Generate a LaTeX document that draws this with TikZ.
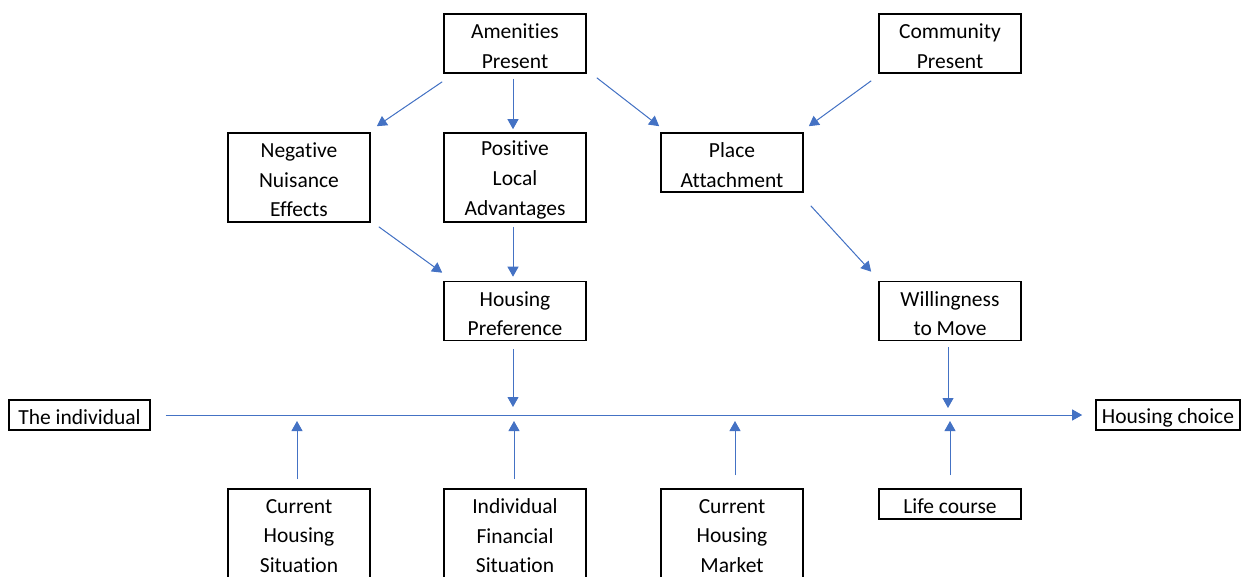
\documentclass[tikz,border=0pt]{standalone}
\usepackage{fontspec}
\setmainfont{Carlito}[Ligatures={NoCommon}]
\usetikzlibrary{arrows.meta}
\definecolor{arrblue}{HTML}{4472C4}
\newcommand\bx[4]{\node[box,#3] (#1) at (#2) {};
  \node[txt] (#1t) at ([yshift=-2.5pt]#1.center) {#4};}
\begin{document}
\begin{tikzpicture}[x=1pt,y=-1pt,
  box/.style={draw=black,line width=1.6pt,minimum width=142pt,inner sep=0pt},
  txt/.style={inner sep=0pt,align=center,font=\fontsize{21.5}{29.6}\selectfont},
  h1/.style={minimum height=30pt},
  h2/.style={minimum height=59pt},
  h3/.style={minimum height=89pt},
  arr/.style={draw=arrblue,line width=1pt,-{Triangle[length=10pt,width=11pt]},fill=arrblue}
]
\useasboundingbox (0,0) rectangle (1245,576);
\clip (0,0) rectangle (1245,576);
\bx{am}{515,43.5}{h2}{Amenities\\Present}
\bx{com}{950,43.5}{h2}{Community\\Present}
\bx{neg}{299,177.5}{h3}{Negative\\Nuisance\\Effects}
\bx{pos}{515,177.5}{h3}{Positive\\Local\\Advantages}
\bx{place}{732,162.5}{h2}{Place\\Attachment}
\bx{pref}{515,311}{h2}{Housing\\Preference}
\bx{will}{950,311}{h2}{Willingness\\to Move}
\bx{ind}{79.5,415}{h1,minimum width=141pt}{The individual}
\bx{choice}{1168,415}{h1,minimum width=144pt}{Housing choice}
\bx{chs}{299,533.5}{h3}{Current\\Housing\\Situation}
\bx{fin}{515,533.5}{h3}{Individual\\Financial\\Situation}
\bx{mkt}{732,533.5}{h3}{Current\\Housing\\Market}
\bx{life}{950,504}{h1}{Life course}
\coordinate (l1) at (299,415);
\coordinate (l2) at (514,415);
\coordinate (l3) at (735,415);
\coordinate (l4) at (950,415);
% main line
\draw[arr,shorten <=15pt,shorten >=13pt] (ind.east) -- (choice.west);
% top arrows
\draw[arr] ([xshift=-1pt,yshift=-8pt]am.south west) -- ([xshift=6pt,yshift=6pt]neg.north east);
\draw[arr,shorten <=5pt,shorten >=3pt] ([xshift=-2pt]am.south) -- ([xshift=-2pt]pos.north);
\draw[arr] ([xshift=10pt,yshift=-4pt]am.south east) -- ([xshift=-1pt,yshift=6pt]place.north west);
\draw[arr] ([xshift=-7pt,yshift=-7pt]com.south west) -- ([xshift=5pt,yshift=6pt]place.north east);
\draw[arr] ([xshift=8pt,yshift=-4pt]neg.south east) -- ([xshift=-1pt,yshift=8pt]pref.north west);
\draw[arr,shorten <=4pt,shorten >=4pt] ([xshift=-2pt]pos.south) -- ([xshift=-2pt]pref.north);
\draw[arr] ([xshift=7pt,yshift=-13pt]place.south east) -- ([xshift=-7pt,yshift=9pt]will.north west);
\draw[arr,shorten <=8pt,shorten >=8pt] ([xshift=-2pt]pref.south) -- ([xshift=-1pt]l2);
\draw[arr,shorten <=6pt,shorten >=7pt] ([xshift=-2pt]will.south) -- ([xshift=-2pt]l4);
% bottom arrows
\draw[arr,shorten <=9pt,shorten >=6pt] ([xshift=-2pt]chs.north) -- ([xshift=-2pt]l1);
\draw[arr,shorten <=9pt,shorten >=6pt] ([xshift=-1pt]fin.north) -- (l2);
\draw[arr,shorten <=13pt,shorten >=6pt] ([xshift=3pt]mkt.north) -- (l3);
\draw[arr,shorten <=13pt,shorten >=6pt] (life.north) -- (l4);
\end{tikzpicture}
\end{document}
